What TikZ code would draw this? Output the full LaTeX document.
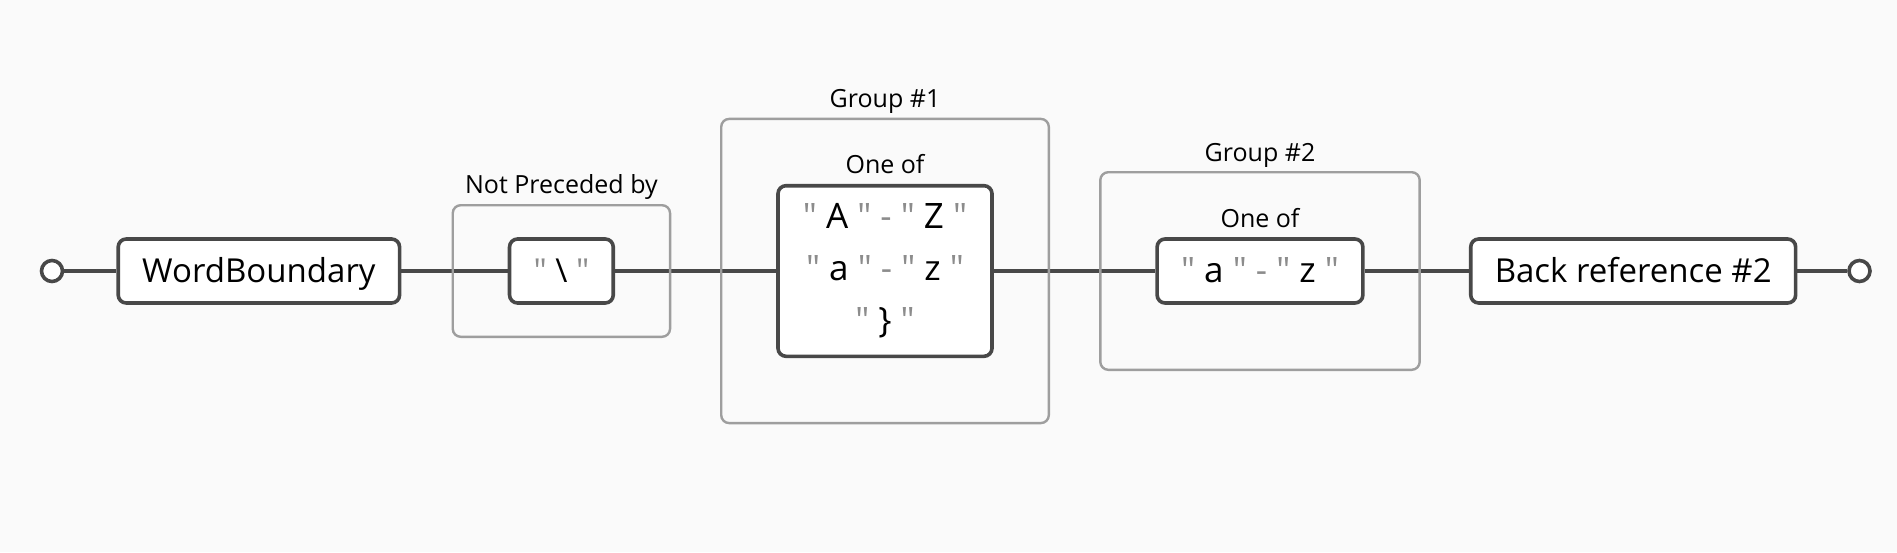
\documentclass[tikz,border=0pt]{standalone}
\usepackage{fontspec}
\setmainfont{Open Sans}[Ligatures=TeXOff]
\usepackage{xcolor}
\usetikzlibrary{positioning, fit}

\definecolor{bg}{HTML}{FAFAFA}
\definecolor{ink}{HTML}{484848}
\definecolor{frame}{HTML}{9E9E9E}
\definecolor{quot}{HTML}{8C8C8C}

% a quoted literal, and a range of two literals
\newcommand{\lit}[1]{\textcolor{quot}{"}\ #1\ \textcolor{quot}{"}}
\newcommand{\rng}[2]{\lit{#1}\ \textcolor{quot}{-}\ \lit{#2}}

\begin{document}
\begin{tikzpicture}[x=1pt, y=1pt, on grid, node distance=150pt,
    term/.style={draw=ink, fill=white, line width=1.8pt, rounded corners=4pt,
      minimum height=32pt, inner xsep=12pt, text height=11.8pt, text depth=0pt,
      font=\fontsize{16.5}{20}\selectfont},
    endpt/.style={circle, draw=ink, fill=white, line width=1.8pt,
      minimum size=10.5pt, inner sep=0pt},
    grp/.style={draw=frame, line width=1.2pt, rounded corners=4pt, inner xsep=27.5pt},
    grpname/.style={font=\fontsize{12.5}{15}\selectfont, text height=9pt, text depth=0pt},
    wire/.style={draw=ink, line width=1.8pt}]
  \useasboundingbox[fill=bg] (0,-140.5) rectangle (948.5,135.5);

  % main track
  \node[endpt] (start) at (26,0) {};
  \node[term] (wb) [right=103.45pt of start] {WordBoundary};
  \node[term] (bs) [right=151.25pt of wb] {\lit{\textbackslash}};
  \node[term, align=center, minimum height=85.3pt, minimum width=107pt,
    text height=, text depth=, font=\fontsize{17.5}{26}\selectfont]
    (set1) [right=161.8pt of bs] {\rng{A}{Z}\\ \rng{a}{z}\\ \lit{\}}};
  \node[term, font=\fontsize{17.5}{20}\selectfont] (set2) [right=187.5pt of set1] {\rng{a}{z}};
  \node[term] (ref) [right=186.6pt of set2] {Back reference \#2};
  \node[endpt] (stop) [right=113.15pt of ref] {};

  \path[wire]
    (start) edge (wb)
    (wb) edge (bs)
    (bs) edge (set1)
    (set1) edge (set2)
    (set2) edge (ref)
    (ref) edge (stop);

  % frames round the groups
  \node[grp, inner ysep=16pt, fit=(bs)] (look) {};
  \node[grpname] (lookname) at ([yshift=10pt]look.north) {Not Preceded by};

  \node[grpname] (set1name) at ([yshift=9.5pt]set1.north) {One of};
  \node[grp, inner ysep=32.5pt, fit=(set1)] (grp1) {};
  \node[grpname] (grp1name) at ([yshift=9.5pt]grp1.north) {Group \#1};

  \node[grpname] (set2name) at ([yshift=9.5pt]set2.north) {One of};
  \node[grp, inner ysep=32.5pt, fit=(set2)] (grp2) {};
  \node[grpname] (grp2name) at ([yshift=9.5pt]grp2.north) {Group \#2};
\end{tikzpicture}
\end{document}
